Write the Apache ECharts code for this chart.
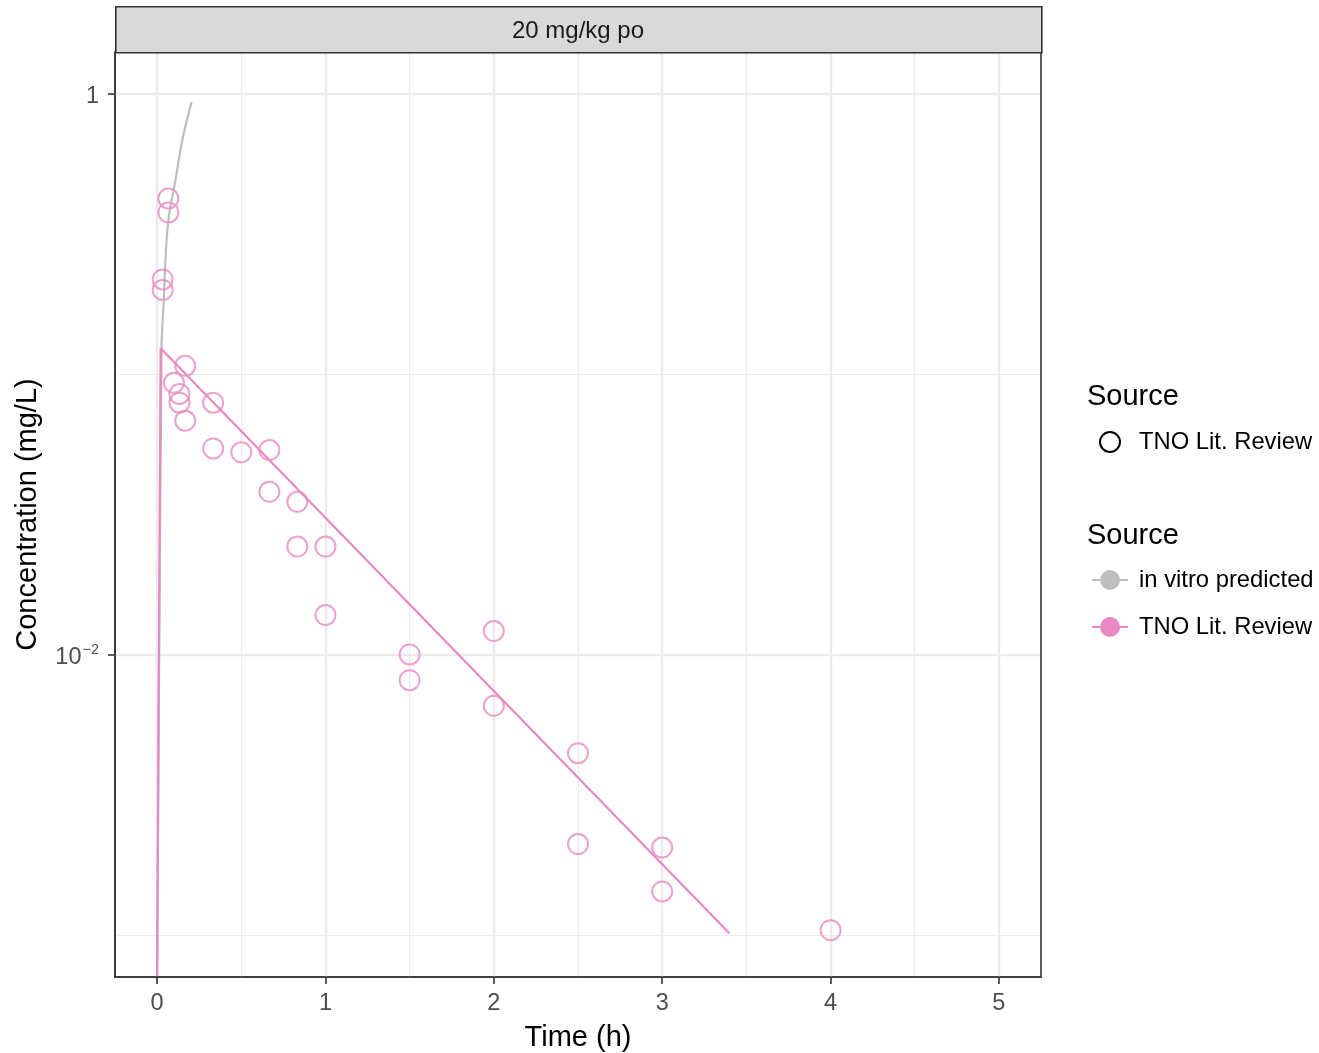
<!DOCTYPE html>
<html>
<head>
<meta charset="utf-8">
<script src="https://cdn.jsdelivr.net/npm/echarts@6/dist/echarts.min.js"></script>
<style>html,body{margin:0;padding:0;background:#fff}#c{width:1319px;height:1053px}</style>
</head>
<body>
<div id="c"></div>
<script>
// ---- data ----
const obsTime = [0.033,0.033,0.067,0.067,0.1,0.133,0.133,0.167,0.167,0.333,0.333,0.5,0.667,0.667,0.833,0.833,1,1,1.5,1.5,2,2,2.5,2.5,3,3,4];
const obsConc = [0.218,0.200,0.424,0.378,0.0933,0.0851,0.0792,0.1073,0.0683,0.0792,0.0544,0.0527,0.0537,0.0381,0.0351,0.0243,0.0243,0.01384,0.01002,0.00811,0.01214,0.00657,0.00445,0.00211,0.00205,0.00143,0.00104];
const fitTime = [0, 0.021, 3.399];
const fitConc = [0, 0.124, 0.001014];
const predTime = [0, 0.027, 0.039, 0.050, 0.068, 0.110, 0.151, 0.205];
const predConc = [0, 0.127, 0.181, 0.258, 0.358, 0.497, 0.691, 0.936];
const xTickValues = [0,1,2,3,4,5];
const xMinorValues = [0.5,1.5,2.5,3.5,4.5];
const yTickValues = [1, 0.01];
const yTickLabels = ['{n|1}', '{n|10}{s|\u22122}'];
const yMinorValues = [0.1, 0.001];
const stripLabel = '20 mg/kg po';
const seriesNames = ['in vitro predicted', 'TNO Lit. Review'];

// ---- scales ----
const Y_MIN = -3.15, Y_MAX = 0.15;
const X_MIN = -0.25, X_MAX = 5.25;
const L = v => v > 0 ? Math.log10(v) : Y_MIN;
const pairs = (t, c) => t.map((x, i) => [x, L(c[i])]);

const FONT = 'Liberation Sans, Arial, Helvetica, sans-serif';
const PINK = '#E78AC3', GREY = '#BEBEBE';
const GRID_COL = '#EBEBEB';

const gridLines = [];
xTickValues.forEach(v => gridLines.push({xAxis: v, lineStyle: {color: GRID_COL, width: 2.4, type: 'solid'}}));
xMinorValues.forEach(v => gridLines.push({xAxis: v, lineStyle: {color: GRID_COL, width: 1.2, type: 'solid'}}));
yTickValues.forEach(v => gridLines.push({yAxis: L(v), lineStyle: {color: GRID_COL, width: 2.4, type: 'solid'}}));
yMinorValues.forEach(v => gridLines.push({yAxis: L(v), lineStyle: {color: GRID_COL, width: 1.2, type: 'solid'}}));

const chart = echarts.init(document.getElementById('c'), null, {renderer: 'canvas'});
const yLabelMap = {};
yTickValues.forEach((v, i) => { yLabelMap[L(v).toFixed(4)] = yTickLabels[i]; });

chart.setOption({
  animation: false,
  backgroundColor: '#ffffff',
  textStyle: {fontFamily: FONT},
  grid: {left: 115, right: 278, top: 52, bottom: 76, containLabel: false, outerBoundsMode: 'none',
         show: true, borderColor: '#333333', borderWidth: 1.6, backgroundColor: 'transparent', z: 10},
  xAxis: {
    type: 'value', min: X_MIN, max: X_MAX,
    name: 'Time (h)', nameLocation: 'middle', nameGap: 46,
    nameTextStyle: {fontSize: 29, color: '#000', fontFamily: FONT},
    axisLine: {show: true, onZero: false, lineStyle: {color: '#333333', width: 1.6}},
    axisTick: {show: true, inside: false, length: 7, lineStyle: {color: '#333333', width: 1.6}, customValues: xTickValues},
    axisLabel: {show: true, fontSize: 23.5, color: '#4D4D4D', margin: 15, fontFamily: FONT, customValues: xTickValues,
                formatter: v => String(v)},
    splitLine: {show: false}
  },
  yAxis: {
    type: 'value', min: Y_MIN, max: Y_MAX,
    name: 'Concentration (mg/L)', nameLocation: 'middle', nameGap: 73, nameRotate: 90,
    nameTextStyle: {fontSize: 29, color: '#000', fontFamily: FONT},
    axisLine: {show: true, onZero: false, lineStyle: {color: '#333333', width: 1.6}},
    axisTick: {show: true, inside: false, length: 7, lineStyle: {color: '#333333', width: 1.6}, customValues: yTickValues.map(L)},
    axisLabel: {show: true, margin: 16, fontFamily: FONT, customValues: yTickValues.map(L),
      padding: [5, 0, 0, 0],
      formatter: v => yLabelMap[Number(v).toFixed(4)] || '',
      rich: {
        n: {fontSize: 23.5, color: '#4D4D4D', fontFamily: FONT},
        s: {fontSize: 14.5, color: '#4D4D4D', fontFamily: FONT, verticalAlign: 'bottom', padding: [0, 0, 14, 1]}
      }},
    splitLine: {show: false}
  },
  legend: [
    {
      left: 1099, top: 430, orient: 'vertical', itemWidth: 36, itemHeight: 20, itemGap: 20, padding: 0,
      textStyle: {fontSize: 23.8, color: '#000', fontFamily: FONT, padding: [0, 0, 0, 6]}, selectedMode: false,
      data: [{name: seriesNames[1], icon: 'circle', itemStyle: {color: '#ffffff', borderColor: '#000000', borderWidth: 2}}]
    },
    {
      left: 1091, top: 568, orient: 'vertical', itemWidth: 36, itemHeight: 25, itemGap: 23, padding: 0,
      textStyle: {fontSize: 23.8, color: '#000', fontFamily: FONT, padding: [0, 0, 0, 6]}, selectedMode: false,
      data: [{name: seriesNames[0]}, {name: seriesNames[1]}]
    }
  ],
  graphic: [
    {type: 'rect', left: 115, top: 6, shape: {x: 0, y: 0, width: 926, height: 46},
     style: {fill: '#D9D9D9', stroke: '#333333', lineWidth: 1.6}, z: 20},
    {type: 'text', x: 578, y: 31, style: {text: stripLabel, fontSize: 24, fill: '#1A1A1A', fontFamily: FONT,
     textAlign: 'center', textVerticalAlign: 'middle'}, z: 21},
    {type: 'text', x: 1087, y: 397, style: {text: 'Source', fontSize: 29, fill: '#000', fontFamily: FONT,
     textAlign: 'left', textVerticalAlign: 'middle'}},
    {type: 'text', x: 1087, y: 536, style: {text: 'Source', fontSize: 29, fill: '#000', fontFamily: FONT,
     textAlign: 'left', textVerticalAlign: 'middle'}}
  ],
  series: [
    {
      name: '__grid', type: 'line', data: [], z: 1, silent: true, legendHoverLink: false,
      markLine: {silent: true, z: 1, zlevel: 0, symbol: ['none', 'none'], label: {show: false}, animation: false, data: gridLines}
    },
    {
      name: seriesNames[0], type: 'line', data: pairs(predTime, predConc), z: 3,
      smooth: 0.4, showSymbol: false, symbol: 'circle', clip: true,
      color: GREY, lineStyle: {color: GREY, width: 2.2}, itemStyle: {color: GREY, borderWidth: 0}
    },
    {
      name: seriesNames[1], type: 'line', data: pairs(fitTime, fitConc), z: 4,
      showSymbol: false, symbol: 'circle', clip: true,
      color: PINK, lineStyle: {color: PINK, width: 2.2}, itemStyle: {color: PINK, borderWidth: 0}
    },
    {
      name: seriesNames[1], type: 'scatter', data: pairs(obsTime, obsConc), z: 5,
      symbol: 'circle', symbolSize: 20, clip: true,
      itemStyle: {color: 'rgba(0,0,0,0)', borderColor: PINK, borderWidth: 2}
    }
  ]
});
</script>
</body>
</html>
